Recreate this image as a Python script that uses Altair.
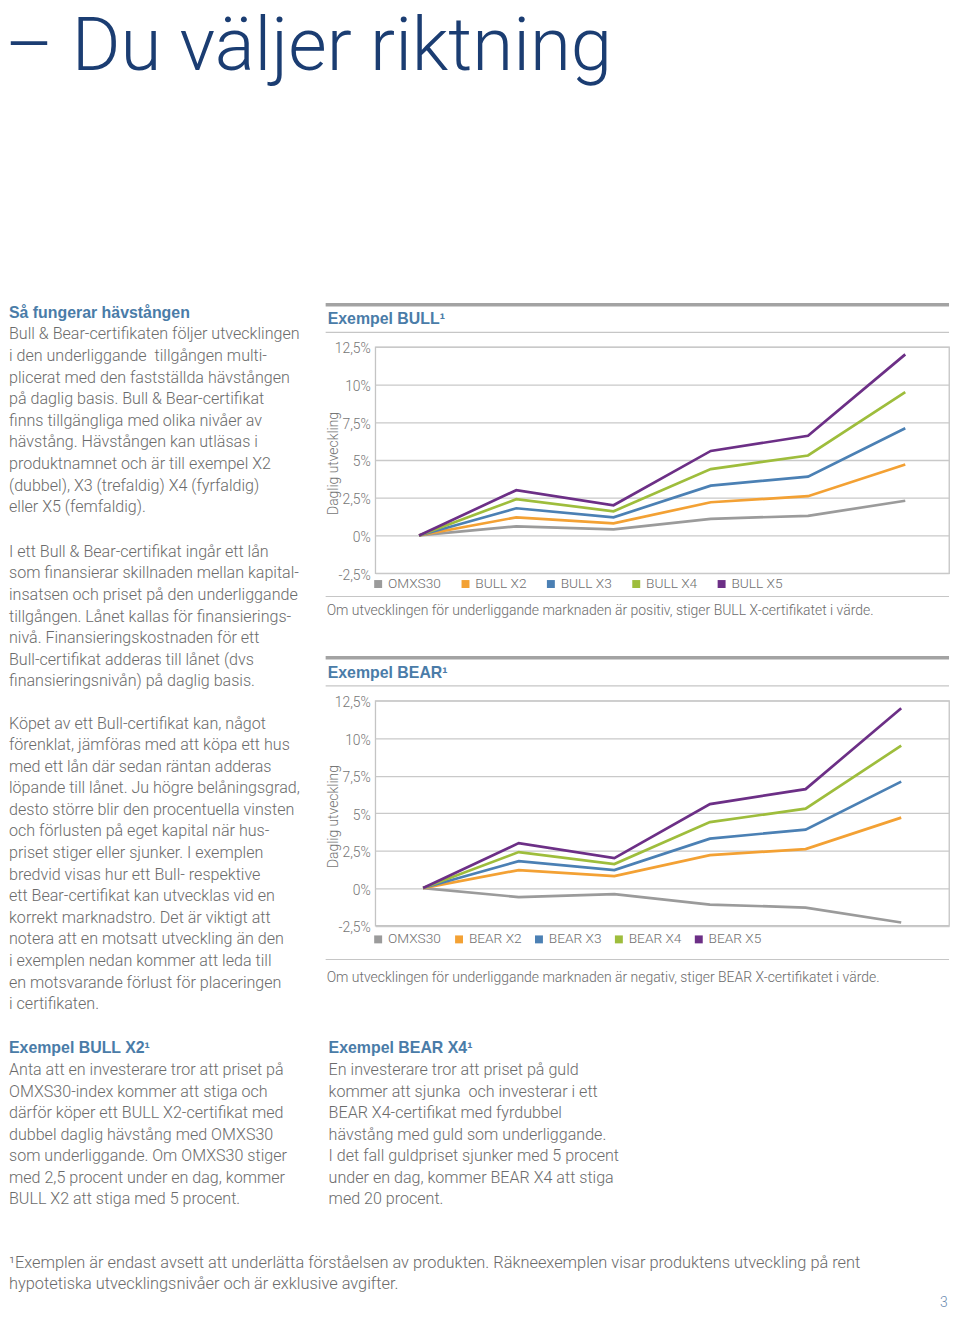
import altair as alt
import pandas as pd

# ---------------- data ----------------
days = [1, 2, 3, 4, 5, 6]
y_ticks = [-2.5, 0, 2.5, 5, 7.5, 10, 12.5]

bull_series = ["OMXS30", "BULL X2", "BULL X3", "BULL X4", "BULL X5"]
bull_omxs30 = [0, 0.6, 0.4, 1.1, 1.3, 2.3]
bull_x2 = [0, 1.2, 0.8, 2.2, 2.6, 4.7]
bull_x3 = [0, 1.8, 1.2, 3.3, 3.9, 7.1]
bull_x4 = [0, 2.4, 1.6, 4.4, 5.3, 9.5]
bull_x5 = [0, 3.0, 2.0, 5.6, 6.6, 12.0]

bear_series = ["OMXS30", "BEAR X2", "BEAR X3", "BEAR X4", "BEAR X5"]
bear_omxs30 = [0, -0.6, -0.4, -1.1, -1.3, -2.3]
bear_x2 = [0, 1.2, 0.8, 2.2, 2.6, 4.7]
bear_x3 = [0, 1.8, 1.2, 3.3, 3.9, 7.1]
bear_x4 = [0, 2.4, 1.6, 4.4, 5.3, 9.5]
bear_x5 = [0, 3.0, 2.0, 5.6, 6.6, 12.0]

series_colors = ["#9b9b9b", "#f3a134", "#4b80b4", "#9ebd3c", "#6c2f86"]

page_title = "– Du väljer riktning"
heading_1 = "Så fungerar hävstången"
para_1 = [
    "Bull & Bear-certifikaten följer utvecklingen",
    "i den underliggande\u00a0 tillgången multi-",
    "plicerat med den fastställda hävstången",
    "på daglig basis. Bull & Bear-certifikat",
    "finns tillgängliga med olika nivåer av",
    "hävstång. Hävstången kan utläsas i",
    "produktnamnet och är till exempel X2",
    "(dubbel), X3 (trefaldig) X4 (fyrfaldig)",
    "eller X5 (femfaldig).",
]
para_2 = [
    "I ett Bull & Bear-certifikat ingår ett lån",
    "som finansierar skillnaden mellan kapital-",
    "insatsen och priset på den underliggande",
    "tillgången. Lånet kallas för finansierings-",
    "nivå. Finansieringskostnaden för ett",
    "Bull-certifikat adderas till lånet (dvs",
    "finansieringsnivån) på daglig basis.",
]
para_3 = [
    "Köpet av ett Bull-certifikat kan, något",
    "förenklat, jämföras med att köpa ett hus",
    "med ett lån där sedan räntan adderas",
    "löpande till lånet. Ju högre belåningsgrad,",
    "desto större blir den procentuella vinsten",
    "och förlusten på eget kapital när hus-",
    "priset stiger eller sjunker. I exemplen",
    "bredvid visas hur ett Bull- respektive",
    "ett Bear-certifikat kan utvecklas vid en",
    "korrekt marknadstro. Det är viktigt att",
    "notera att en motsatt utveckling än den",
    "i exemplen nedan kommer att leda till",
    "en motsvarande förlust för placeringen",
    "i certifikaten.",
]
bull_title = "Exempel BULL¹"
bull_caption = "Om utvecklingen för underliggande marknaden är positiv, stiger BULL X-certifikatet i värde."
bear_title = "Exempel BEAR¹"
bear_caption = "Om utvecklingen för underliggande marknaden är negativ, stiger BEAR X-certifikatet i värde."
bull_ex_head = "Exempel BULL X2¹"
bull_ex = [
    "Anta att en investerare tror att priset på",
    "OMXS30-index kommer att stiga och",
    "därför köper ett BULL X2-certifikat med",
    "dubbel daglig hävstång med OMXS30",
    "som underliggande. Om OMXS30 stiger",
    "med 2,5 procent under en dag, kommer",
    "BULL X2 att stiga med 5 procent.",
]
bear_ex_head = "Exempel BEAR X4¹"
bear_ex = [
    "En investerare tror att priset på guld",
    "kommer att sjunka\u00a0 och investerar i ett",
    "BEAR X4-certifikat med fyrdubbel",
    "hävstång med guld som underliggande.",
    "I det fall guldpriset sjunker med 5 procent",
    "under en dag, kommer BEAR X4 att stiga",
    "med 20 procent.",
]
footnote = [
    "¹Exemplen är endast avsett att underlätta förståelsen av produkten. Räkneexemplen visar produktens utveckling på rent",
    "hypotetiska utvecklingsnivåer och är exklusive avgifter.",
]
page_number = "3"
y_title = "Daglig utveckling"

# ---------------- styles ----------------
BODY_FONT = "Roboto"
HEAD_FONT = "Liberation Sans"
BODY_COLOR = "#6b6b6b"
HEAD_COLOR = "#4a7ca8"
TITLE_COLOR = "#1b3d72"
LH = 21.75

dummy = pd.DataFrame({"k": [0]})
clear_view = alt.ViewBackground(stroke="transparent")


def text_block(lines, x, y, size=16.2, color=BODY_COLOR, weight=300,
               font=BODY_FONT, lh=LH, align="left", clip=False):
    return alt.Chart(dummy).mark_text(
        text=lines, align=align, baseline="alphabetic", font=font,
        fontSize=size, fontWeight=weight, color=color, lineHeight=lh, clip=clip,
    ).encode(x=alt.value(x), y=alt.value(y))


def rule(x1, x2, y, color, width):
    return alt.Chart(dummy).mark_rule(color=color, strokeWidth=width).encode(
        x=alt.value(x1), x2=alt.value(x2), y=alt.value(y))


# title band (its own clipped view so that it can sit at the very top)
title_view = text_block([page_title], -4, 57, size=75, color=TITLE_COLOR, weight=300,
                        clip=True).properties(width=944, height=75, view=clear_view)

BOT = 7  # extra offset of the lower text blocks
layers = [
    text_block([heading_1], 0, 231, size=16, color=HEAD_COLOR, weight="bold", font=HEAD_FONT),
    text_block(para_1, 0, 253),
    text_block(para_2, 0, 472),
    text_block(para_3, 0, 645),
    # bull block decorations
    rule(319, 947, 218, "#a3a3a3", 3.5),
    text_block([bull_title], 321, 237.7, size=16, color=HEAD_COLOR, weight="bold", font=HEAD_FONT),
    rule(319, 947, 246, "#c6c6c6", 1.2),
    rule(319, 947, 512, "#c6c6c6", 1.2),
    text_block([bull_caption], 320, 531, size=14.05),
    # bear block decorations
    rule(319, 947, 573.7, "#a3a3a3", 3.5),
    text_block([bear_title], 321, 593.7, size=16, color=HEAD_COLOR, weight="bold", font=HEAD_FONT),
    rule(319, 947, 602, "#c6c6c6", 1.2),
    rule(319, 947, 877.7, "#c6c6c6", 1.2),
    text_block([bear_caption], 320, 900.3, size=14.05),
    # bottom examples
    text_block([bull_ex_head], 0, 965.3 + BOT, size=16, color=HEAD_COLOR, weight="bold", font=HEAD_FONT),
    text_block(bull_ex, 0, 987 + BOT),
    text_block([bear_ex_head], 322, 965.3 + BOT, size=16, color=HEAD_COLOR, weight="bold", font=HEAD_FONT),
    text_block(bear_ex, 322, 987 + BOT),
    text_block(footnote, 0, 1181 + BOT, size=16.5, lh=22),
    text_block([page_number], 938, 1228, size=14, color="#6a8ab0"),
]
page_view = alt.layer(*layers).properties(width=312, height=1231, view=clear_view)


def make_df(series, cols):
    rows = []
    for name, vals in zip(series, cols):
        for d, v in zip(days, vals):
            rows.append({"day": d, "series": name, "value": v})
    return pd.DataFrame(rows)


label_expr = ("(datum.value < 0 ? '-' : '') + "
              "replace(format(abs(datum.value), '.1~f'), '.', ',') + '%'")


def line_chart(df, series, height, pad, legend_y, col_pad):
    return alt.Chart(df).mark_line(strokeWidth=2.7).encode(
        x=alt.X("day:O", axis=None, scale=alt.Scale(type="point", padding=pad)),
        y=alt.Y("value:Q",
                scale=alt.Scale(domain=[-2.5, 12.5], nice=False, zero=False),
                axis=alt.Axis(values=y_ticks, title=y_title, labelExpr=label_expr,
                              labelFont=BODY_FONT, labelFontSize=14, labelFontWeight=300,
                              labelColor="#767676", labelPadding=5, labelOffset=2,
                              ticks=False, domain=False,
                              grid=True, gridColor="#c9c9c9", gridWidth=1.3,
                              titleFont=BODY_FONT, titleFontSize=14, titleFontWeight=300,
                              titleColor="#767676", titleX=-42, titleY=height / 2 + 3,
                              titleAngle=270, titleAlign="center", titleBaseline="middle")),
        color=alt.Color("series:N",
                        scale=alt.Scale(domain=series, range=series_colors),
                        sort=series,
                        legend=alt.Legend(orient="none", legendX=-4, legendY=legend_y,
                                          direction="horizontal", columns=5, title=None,
                                          symbolType="square", symbolSize=16,
                                          symbolStrokeWidth=4, padding=0,
                                          labelFont=BODY_FONT, labelFontSize=13.8,
                                          labelFontWeight=300, labelColor="#6f6f6f",
                                          labelOffset=3, columnPadding=col_pad)),
    ).properties(width=578, height=height,
                 view=alt.ViewBackground(stroke="#c4c4c4", strokeWidth=1.3))


bull_df = make_df(bull_series, [bull_omxs30, bull_x2, bull_x3, bull_x4, bull_x5])
bear_df = make_df(bear_series, [bear_omxs30, bear_x2, bear_x3, bear_x4, bear_x5])

bull_chart = line_chart(bull_df, bull_series, 228, 0.45, 232, 13)
bear_chart = line_chart(bear_df, bear_series, 226.5, 0.5, 233.5, 6.5)

spacer = alt.Chart(dummy).mark_point(opacity=0).encode(
    x=alt.value(100), y=alt.value(60)
).properties(width=578, height=131.5, view=clear_view)

right_col = alt.vconcat(spacer, bull_chart, bear_chart, spacing=128.5, bounds="flush"
                        ).resolve_scale(color="independent").resolve_legend(color="independent")

main = alt.hconcat(page_view, right_col, spacing=57, bounds="flush")

chart = alt.vconcat(title_view, main, spacing=0, bounds="flush").properties(padding=0)

chart.save("out.html", embed_options={"renderer": "svg", "actions": False})
